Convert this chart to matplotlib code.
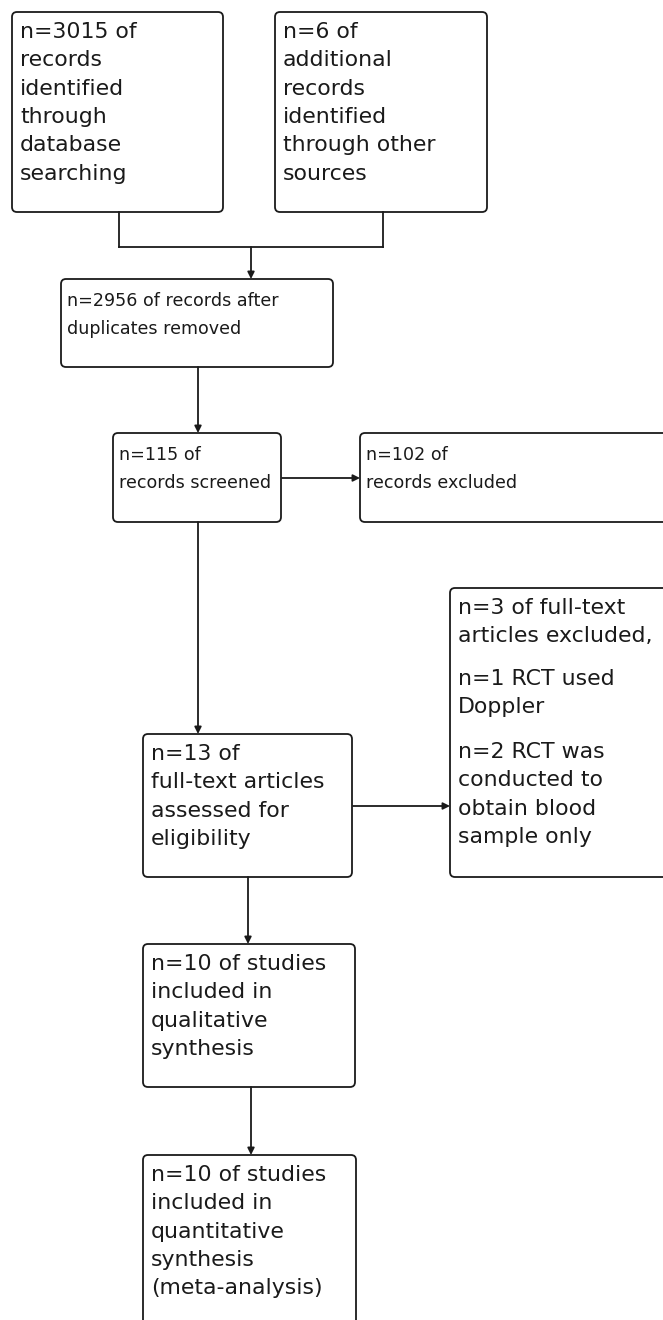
import matplotlib
matplotlib.use("Agg")
import matplotlib.pyplot as plt
from matplotlib.patches import FancyBboxPatch

# box texts (PRISMA flow)
textIdentified = "n=3015 of\nrecords\nidentified\nthrough\ndatabase\nsearching"
textOther = "n=6 of\nadditional\nrecords\nidentified\nthrough other\nsources"
textDuplicates = "n=2956 of records after\nduplicates removed"
textScreened = "n=115 of\nrecords screened"
textExcluded = "n=102 of\nrecords excluded"
textFullText = "n=13 of\nfull-text articles\nassessed for\neligibility"
textFullExcluded = ["n=3 of full-text\narticles excluded,",
                    "n=1 RCT used\nDoppler",
                    "n=2 RCT was\nconducted to\nobtain blood\nsample only"]
textQualitative = "n=10 of studies\nincluded in\nqualitative\nsynthesis"
textQuantitative = "n=10 of studies\nincluded in\nquantitative\nsynthesis\n(meta-analysis)"

BIG = 15.8
SMALL = 12.6
BIG_LS = 1.52
SMALL_LS = 1.72
INK = '#1a1a1a'
LW = 1.3

fig = plt.figure(figsize=(6.63, 13.2), dpi=100)
ax = fig.add_axes([0, 0, 1, 1])
ax.set_xlim(0, 663)
ax.set_ylim(1320, 0)
ax.axis('off')


def box(x, y, w, h):
    p = FancyBboxPatch((x, y), w, h, boxstyle="round,pad=0,rounding_size=5",
                       fc='white', ec=INK, lw=LW, clip_on=False)
    ax.add_patch(p)


def label(x, y, s, size, ls):
    ax.text(x, y, s, fontsize=size, color=INK, ha='left', va='top',
            linespacing=ls, family='DejaVu Sans')


def arrow(x0, y0, x1, y1):
    ax.annotate("", xy=(x1, y1), xytext=(x0, y0),
                arrowprops=dict(arrowstyle='-|>', color=INK, lw=LW,
                                mutation_scale=10, shrinkA=0, shrinkB=0))


def line(xs, ys):
    ax.plot(xs, ys, color=INK, lw=LW, solid_capstyle='projecting')


# top two boxes
box(12, 12, 211, 200)
label(20, 22, textIdentified, BIG, BIG_LS)
box(275, 12, 212, 200)
label(283, 22, textOther, BIG, BIG_LS)

# merge lines
line([119, 119], [212, 247])
line([383, 383], [212, 247])
line([119, 383], [247, 247])
arrow(251, 247, 251, 279)

box(61, 279, 272, 88)
label(67, 292, textDuplicates, SMALL, SMALL_LS)
arrow(198, 367, 198, 433)

box(113, 433, 168, 89)
label(119, 446, textScreened, SMALL, SMALL_LS)
box(360, 433, 320, 89)
label(366, 446, textExcluded, SMALL, SMALL_LS)
arrow(282, 478, 360, 478)

arrow(198, 522, 198, 734)

box(450, 588, 230, 289)
label(458, 598, textFullExcluded[0], BIG, BIG_LS)
label(458, 669, textFullExcluded[1], BIG, BIG_LS)
label(458, 742, textFullExcluded[2], BIG, BIG_LS)

box(143, 734, 209, 143)
label(151, 744, textFullText, BIG, BIG_LS)
arrow(353, 806, 450, 806)

arrow(248, 877, 248, 944)
box(143, 944, 212, 143)
label(151, 954, textQualitative, BIG, BIG_LS)

arrow(251, 1087, 251, 1155)
box(143, 1155, 213, 200)
label(151, 1165, textQuantitative, BIG, BIG_LS)

fig.savefig('out.png', dpi=100)
